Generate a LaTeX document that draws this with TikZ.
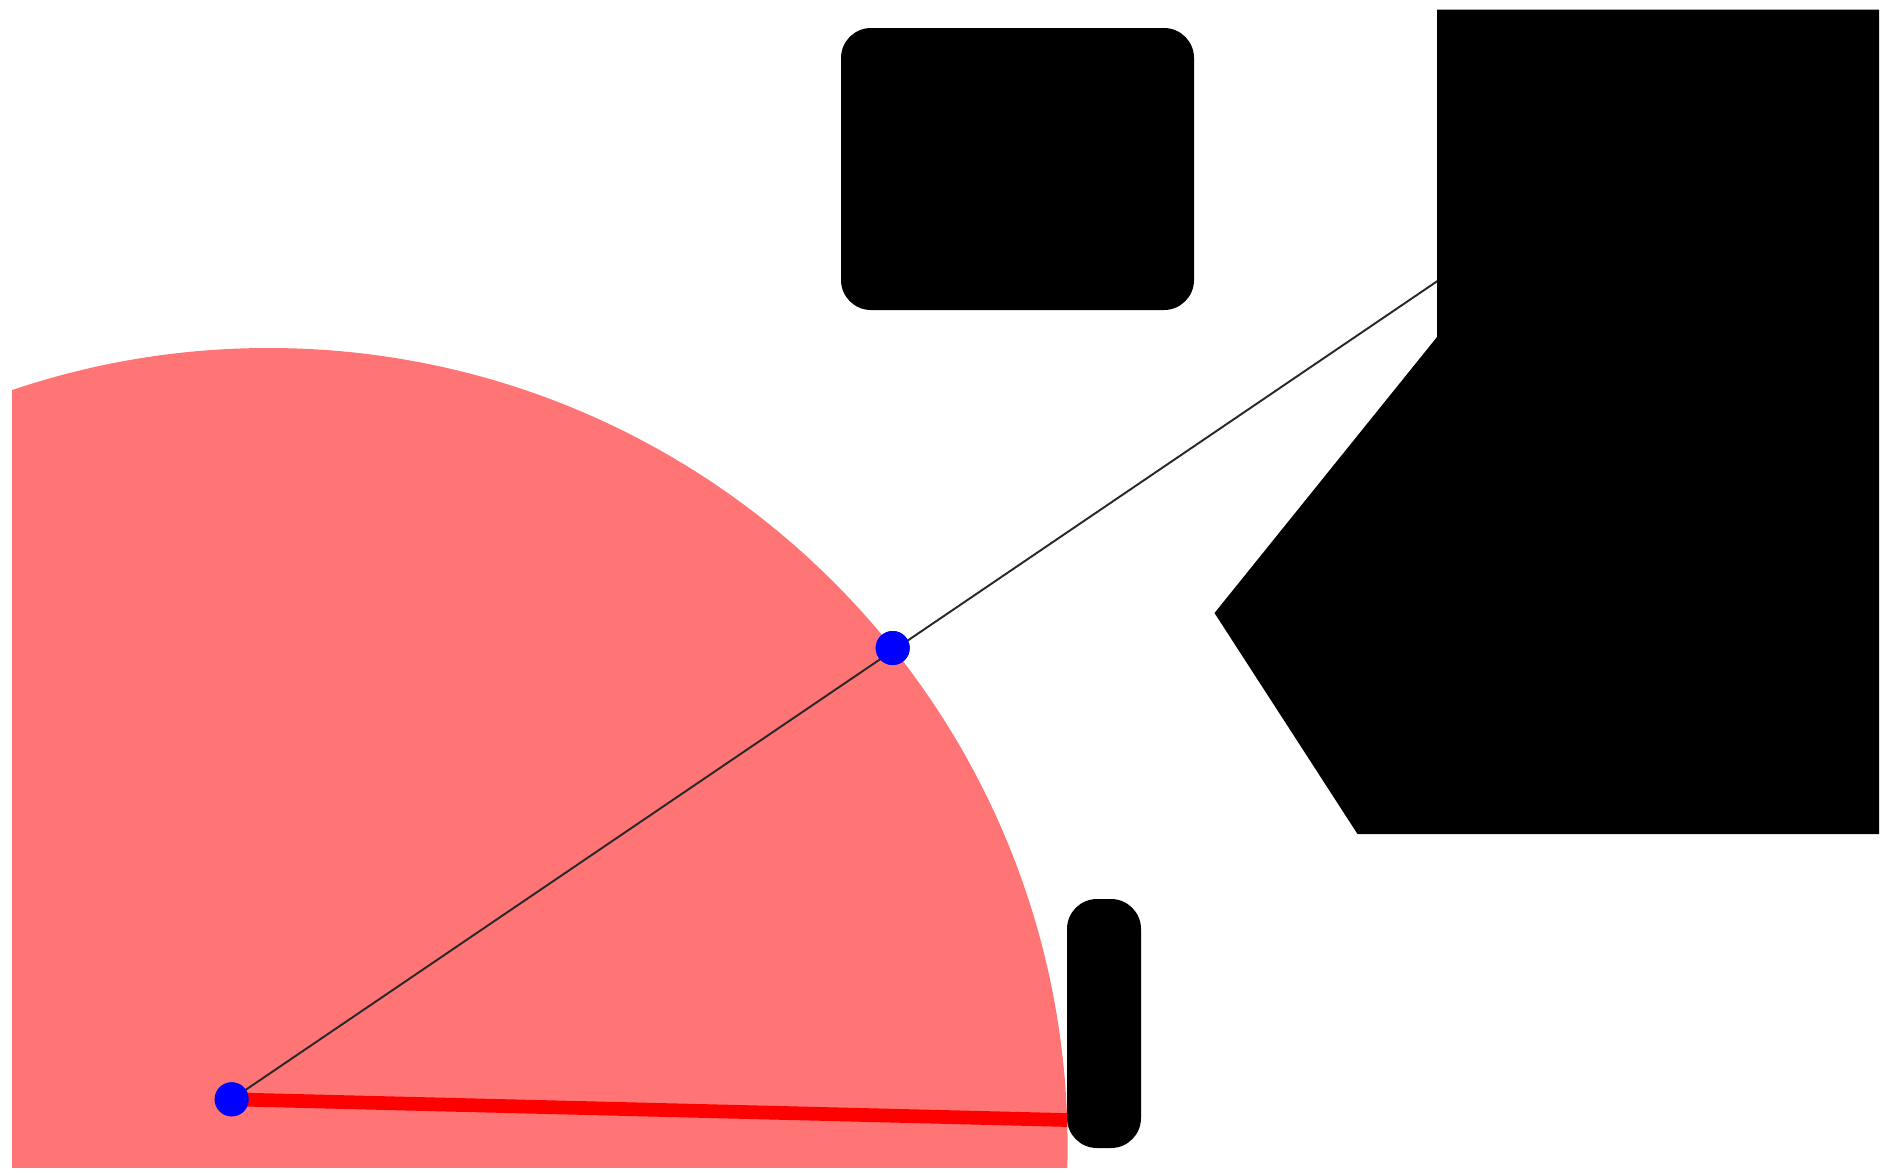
\documentclass[tikz,border=0pt]{standalone}
\definecolor{rangered}{RGB}{255,117,117}
\definecolor{dotblue}{RGB}{0,0,255}
\definecolor{raygray}{RGB}{40,40,40}
\definecolor{contactred}{RGB}{255,0,0}
\begin{document}
\begin{tikzpicture}[x=0.01cm,y=-0.01cm,
  dot/.style={circle,fill=dotblue,inner sep=0pt,minimum size=0.34cm},
  obstacle/.style={fill=black},
  ray/.style={draw=raygray,line width=0.55pt},
  contact/.style={draw=contactred,line width=3.9pt}]
\useasboundingbox[fill=white] (0,0) rectangle (1897,1172);
\begin{scope}
  \clip (12,9.7) rectangle (1879,1167);
  \fill[rangered] (268.6,1147) circle[radius=799];
\end{scope}
% obstacles
\fill[obstacle,rounded corners=0.3cm] (841,28) rectangle (1194,310);
\fill[obstacle,rounded corners=0.3cm] (1067,899) rectangle (1141,1148);
% dots and lines
\node[dot] (robot) at (231.7,1099.3) {};
\node[dot] (hit) at (892.7,648) {};
\coordinate (rayend) at (1437.5,281);
\coordinate (contactend) at (1067,1120);
\draw[contact] (robot.center) -- (contactend);
\draw[ray] (robot.center) -- (rayend);
\node[dot] at (robot) {};
\node[dot] at (hit) {};
\fill[obstacle] (1437,9.7) -- (1879,9.7) -- (1879,834) -- (1357.5,834) -- (1214.5,613) -- (1437,337) -- cycle;
\end{tikzpicture}
\end{document}
